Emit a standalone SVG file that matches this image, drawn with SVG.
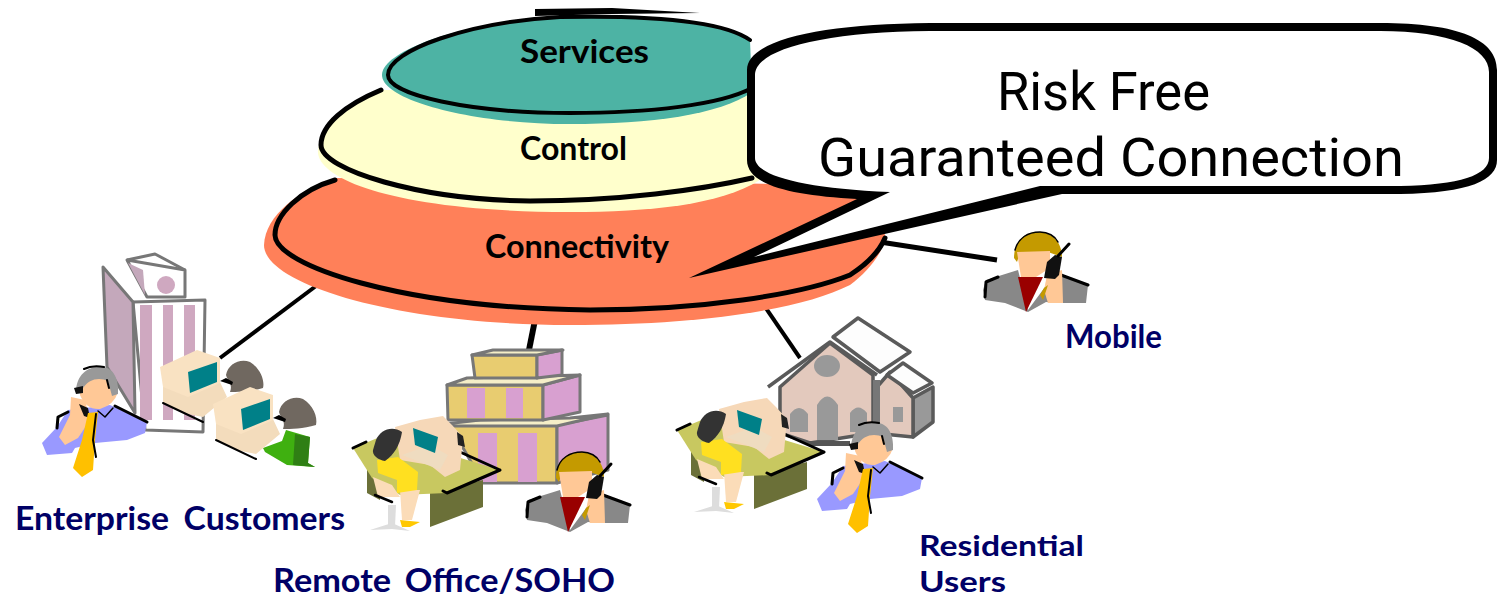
<svg xmlns="http://www.w3.org/2000/svg" width="1501" height="599" viewBox="0 0 1501 599">
<style>
.lbl{font-family:"Lato","Open Sans","DejaVu Sans",sans-serif;font-weight:700;fill:#000066;font-size:32px}
.lbl2{font-size:29px}
.lay{font-family:"Lato","Open Sans","DejaVu Sans",sans-serif;font-weight:700;fill:#000;font-size:32px}
.big{font-family:"Roboto","Noto Sans","DejaVu Sans",sans-serif;fill:#000;font-size:54px}
.ln{fill:none;stroke:#000;stroke-linecap:round;stroke-linejoin:round}
.conn{stroke:#000;fill:none}
.bld{stroke:#777;stroke-width:3;stroke-linejoin:round}
.roof{stroke:#5a5a5a;stroke-width:3.5;stroke-linejoin:round}
.cream{fill:#f9e2c2}.teal{fill:#008088}.pink{fill:#d8a0d0}.gold{fill:#e8cc70}.top{fill:#f5eec8}.wall{fill:#e3c9bd}.win{fill:#999}
</style>
<defs>
<g id="blue-man">
<path d="M42,443 57,427 68,410 110,405 147,422 145,433 127,440 95,443 75,448 72,453 47,455Z" fill="#9999ff"/>
<path class="ln" stroke-width="3" d="M57,428 58,417 68,412M115,406 147,422"/>
<path d="M80,395Q80,374 97,374 117,376 118,392 114,405 100,409 86,410 80,395Z" fill="#ffc896"/>
<path d="M76,390C78,370 93,366 103,367 113,368 119,378 118,394L112,396 108,381C100,377 88,378 82,390Z" fill="#999"/>
<path class="ln" stroke-width="2" d="M84,369C90,366 98,366 104,367M107,380 109,388"/>
<path d="M71,397 85,400 90,420 78,438 65,445 59,437 70,415Z" fill="#ffc896"/>
<path d="M74,388 83,386 83,393 76,394ZM79,404 88,408 90,418 84,416Z" fill="#111"/>
<path d="M88,413 98,412 95,440 93,470 82,477 73,468 82,440Z" fill="#ffc000"/>
<path class="ln" stroke-width="2" d="M96,414 93,440 96,457"/>
<path class="ln" stroke-width="1.5" d="M98,411 105,417 113,408"/>
</g>
<g id="gray-man">
<path d="M525,510 528,500 560,490 570,530 587,507 600,495 630,505 628,523 597,523 588,522 570,532 547,523 527,520Z" fill="#888"/>
<path class="ln" stroke-width="3" d="M527,517 528,502 540,497M603,495 630,505"/>
<path d="M556,478C556,462 566,452 580,452 594,452 604,462 604,477L590,472 562,473 559,482Z" fill="#c49a00"/>
<path class="ln" stroke-width="1.5" d="M557,470C560,458 570,452 582,452 590,452 597,456 600,462"/>
<path d="M559,472 592,471 592,488 578,497 563,497Z" fill="#ffc896"/>
<path d="M560,497 585,497 568,532Z" fill="#990000"/>
<path d="M589,495 604,490 605,523 590,523 586,510Z" fill="#ffc896"/>
<path d="M586,498 589,482 597,475 604,477 601,495 597,499Z" fill="#111"/>
<path class="ln" stroke="#555" stroke-width="3" d="M600,476 611,464"/>
<path d="M586,508 590,505 585,520 582,515Z" fill="#c49a00"/>
</g>
<g id="desk-woman">
<path d="M367,453 367,493 380,500 380,470ZM430,492 483,480 483,507 430,527Z" fill="#6b7038"/>
<path d="M353,448 385,435 500,470 447,493 400,495 372,478Z" fill="#c8c860"/>
<path class="ln" stroke-width="3" d="M500,470 460,452M500,470 447,493 443,491M353,448 366,442"/>
<path d="M388,505 396,505 395,527 388,527Z" fill="#ddd"/>
<path d="M370,530 392,523 410,531 392,529Z" fill="#ddd"/>
<path d="M400,490 420,490 412,520 402,520Z" fill="#fbdcb8"/>
<path d="M373,477 392,485 400,497 378,497Z" fill="#fbdcb8"/>
<path class="ln" stroke-width="2.5" d="M375,495 392,502"/>
<path d="M400,520 420,522 410,527 402,527Z" fill="#ffc800"/>
<path d="M395,427 420,420 443,416 452,425 463,437 460,470 445,477 430,465 400,460Z" fill="#f6d8b8"/>
<path d="M402,455 430,445 448,455 440,470 420,462Z" fill="#efdcc0"/>
<path d="M413,428 438,437 435,453 415,445Z" class="teal"/>
<path d="M377,460 398,457 418,472 417,490 397,493 397,480 378,473Z" fill="#ffe020"/>
<path d="M376,440C380,430 392,425 402,432 400,445 394,455 385,461 378,460 372,455 373,450Z" fill="#333"/>
<path d="M457,432 463,436 465,447 458,445Z" fill="#222"/>
</g>
<g id="pc-unit">
<path d="M163,385 187,395 220,382 227,397 203,417 183,413 163,403Z" fill="#f3dcbc"/>
<path class="ln" stroke="#333" stroke-width="2" d="M163,403 203,422"/>
<path d="M160,367 197,350 220,358 220,383 188,397 163,387Z" class="cream"/>
<path d="M188,372 217,362 217,382 190,393Z" class="teal"/>
<path d="M226,375C228,364 240,358 250,362 260,368 265,380 263,388 250,392 238,392 230,392 233,384 228,382 226,375Z" fill="#706860"/>
<path d="M233,382 226,378 220,381 232,385Z" fill="#000"/>
</g>
</defs>

<g id="connectors">
<path class="conn" stroke-width="4" d="M316,286 220,358"/>
<path class="conn" stroke-width="6" d="M535,320 529,350"/>
<path class="conn" stroke-width="4" d="M763,304 800,358"/>
<path class="conn" stroke-width="5" d="M880,242 997,260"/>
</g>

<g id="layer-connectivity">
<path d="M335,178C300,190 265,215 264,245 264,285 400,325 570,325 700,325 800,310 850,285 870,270 885,250 885,235L860,185Z" fill="#ff8059"/>
<path class="ln" stroke-width="5" d="M335,180C300,190 275,215 275,235 275,265 400,308 590,310 700,310 800,295 850,275 870,262 880,250 885,238"/>
<text class="lay" x="485" y="258" textLength="184" lengthAdjust="spacingAndGlyphs">Connectivity</text>
</g>
<g id="layer-control">
<path d="M381,90C350,105 322,120 318,150 315,180 400,212 570,212 650,212 720,205 760,180L760,90Z" fill="#ffffcc"/>
<path class="ln" stroke-width="5" d="M381,90C345,105 321,125 321,145 321,170 420,200 530,201 620,201 700,190 752,178"/>
<text class="lay" x="520" y="160" textLength="107" lengthAdjust="spacingAndGlyphs">Control</text>
</g>
<g id="layer-services">
<path d="M750,40C720,22 650,17 560,17 470,20 382,50 382,75 382,100 470,124 570,124 650,124 720,115 752,92Z" fill="#4db3a4"/>
<path class="ln" stroke-width="4" d="M750,40C725,22 660,15 560,17 470,22 388,50 388,75 388,95 470,113 570,113 650,113 720,105 752,88"/>
<path d="M535,9 612,8 700,13 612,14 535,16Z" fill="#000"/>
<text class="lay" x="520" y="63" textLength="129" lengthAdjust="spacingAndGlyphs">Services</text>
</g>

<g id="callout">
<path d="M747,70C747,40 820,24 930,23L1380,23C1460,23 1497,40 1497,70L1497,160C1497,180 1470,193 1400,194L1062,194 689,278 857,199C790,195 747,185 747,160Z" fill="#000"/>
<path d="M755,75C755,50 820,32 930,31L1380,31C1450,31 1489,48 1489,72L1489,158C1489,175 1460,185 1400,186L1040,186 754,257 890,192C800,188 755,175 755,158Z" fill="#fff"/>
<text class="big" x="997" y="110" textLength="213" lengthAdjust="spacingAndGlyphs">Risk Free</text>
<text class="big" x="818" y="176" textLength="586" lengthAdjust="spacingAndGlyphs">Guaranteed Connection</text>
</g>

<g id="node-enterprise">
<path class="bld" d="M127,260 185,270 185,297 147,297Z" fill="#fff"/>
<path class="bld" d="M127,260 155,254 185,270" fill="none"/>
<path d="M128,263 145,295 143,270Z" fill="#c4a8bb"/>
<circle cx="166" cy="285" r="9" fill="#cfa8c0"/>
<path class="bld" d="M133,302 205,300 203,432 145,430Z" fill="#fff"/>
<path d="M140,305H152V420H140ZM163,305H173V420H163ZM184,305H195V420H184Z" fill="#cfa8c0"/>
<path class="bld" d="M103,267 133,302 135,413 107,367Z" fill="#c4a8bb"/>
<use href="#pc-unit"/>
<path d="M263,448 282,441 286,430 310,437 308,463 315,467 287,465 265,452Z" fill="#3fb010"/>
<path d="M295,434 310,437 308,463 315,467 293,465Z" fill="#2f7f14"/>
<use href="#pc-unit" x="53" y="37"/>
<use href="#blue-man"/>
<text class="lbl" x="15" y="530" textLength="330" lengthAdjust="spacingAndGlyphs" word-spacing="6">Enterprise Customers</text>
</g>

<g id="node-soho">
<path class="bld gold" d="M450,425 557,425 557,483 483,483Z"/>
<path class="bld pink" d="M557,425 608,415 608,470 557,483Z"/>
<path class="pink" d="M478,433H497V482H478ZM518,433H537V482H518Z"/>
<path class="bld top" d="M445,424 480,420 570,418 608,414 557,426 445,426Z"/>
<path class="bld gold" d="M447,385 543,385 543,420 448,420Z"/>
<path class="bld pink" d="M543,385 580,375 580,412 543,420Z"/>
<path class="pink" d="M467,388H485V418H467ZM506,388H523V418H506Z"/>
<path class="bld top" d="M447,385 467,378 580,375 543,385Z"/>
<path class="bld gold" d="M472,355 537,355 537,378 475,378Z"/>
<path class="bld pink" d="M537,355 562,350 562,375 537,378Z"/>
<path class="bld top" d="M472,355 493,350 563,350 537,355Z"/>
<use href="#desk-woman"/>
<use href="#gray-man"/>
<text class="lbl" x="273" y="592" textLength="342" lengthAdjust="spacingAndGlyphs" word-spacing="5">Remote Office/SOHO</text>
</g>

<g id="node-residential">
<path class="roof" fill="#999" d="M913,398 933,387 933,422 913,437Z"/>
<path class="roof wall" d="M877,387 890,372 913,398 913,437 873,433Z"/>
<path class="win" d="M893,407H903V422H893Z"/>
<path class="roof wall" d="M780,387 830,343 873,375 873,433 810,443 780,433Z"/>
<path d="M873,380H880V433H873Z" fill="#777"/>
<path class="roof" fill="#fdfdfd" d="M833,337 858,318 910,352 880,372Z"/>
<path class="roof" fill="#fdfdfd" d="M887,375 903,363 932,383 913,393Z"/>
<path class="roof" fill="none" d="M768,387 830,342 877,375"/>
<ellipse class="win" cx="827" cy="366" rx="13" ry="11"/>
<path class="win" d="M817,440V405Q827,388 838,405V440ZM790,414Q799,402 808,414V432H790ZM850,413Q858,402 867,413V432H850Z"/>
<path d="M807,441 850,441V446H807Z" fill="#555"/>
<use href="#desk-woman" x="324" y="-18"/>
<use href="#blue-man" x="775" y="56"/>
<text class="lbl lbl2" x="919" y="556" textLength="165" lengthAdjust="spacingAndGlyphs">Residential</text>
<text class="lbl lbl2" x="919" y="592" textLength="87" lengthAdjust="spacingAndGlyphs">Users</text>
</g>

<g id="node-mobile">
<use href="#gray-man" x="458" y="-220"/>
<text class="lbl" x="1065" y="348" textLength="97" lengthAdjust="spacingAndGlyphs">Mobile</text>
</g>
</svg>
